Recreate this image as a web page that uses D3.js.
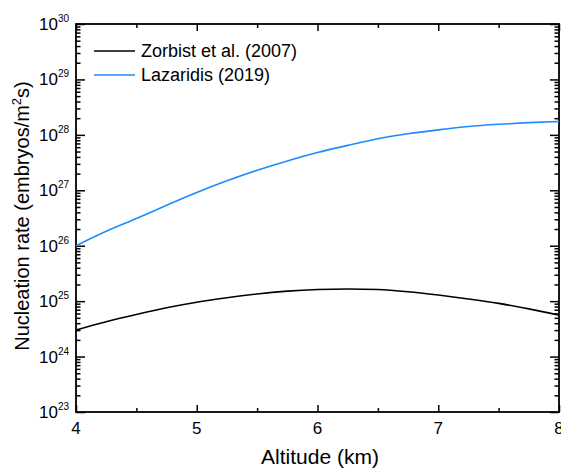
<!DOCTYPE html>
<html>
<head>
<meta charset="utf-8">
<script src="https://cdn.jsdelivr.net/npm/d3@7"></script>
<style>
  body { margin: 0; background: #fff; }
  text { font-family: "Liberation Sans", Arial, sans-serif; fill: #000; }
</style>
</head>
<body>
<script>
var fullWidth = 561
var fullHeight = 468
var margin = { top: 24, right: 2, bottom: 56, left: 76 },
  innerWidth = fullWidth - margin.left - margin.right,
  innerHeight = fullHeight - margin.top - margin.bottom

// altitude grid (km) and log10 of nucleation rate
var altitudes = [4, 4.25, 4.5, 4.75, 5, 5.25, 5.5, 5.75, 6, 6.25, 6.5, 6.75, 7, 7.25, 7.5, 7.75, 8]
var zorbistLog = [24.48, 24.63, 24.76, 24.88, 24.98, 25.06, 25.13, 25.18, 25.21, 25.22, 25.21, 25.17, 25.11, 25.04, 24.96, 24.86, 24.75]
var lazaridisLog = [26.0, 26.26, 26.49, 26.73, 26.96, 27.17, 27.36, 27.53, 27.68, 27.81, 27.93, 28.02, 28.09, 28.15, 28.19, 28.22, 28.24]

var seriesNames = ['Zorbist et al. (2007)', 'Lazaridis (2019)']
var seriesColors = ['#000000', '#1a8cff']

var xMajor = [4, 5, 6, 7, 8]
var xMinor = [4.5, 5.5, 6.5, 7.5]
var yExponents = [23, 24, 25, 26, 27, 28, 29, 30]

var svg = d3
  .select('body')
  .append('svg')
  .attr('width', fullWidth)
  .attr('height', fullHeight)

var g = svg.append('g').attr('transform', 'translate(' + margin.left + ',' + margin.top + ')')

var x = d3.scaleLinear().domain([4, 8]).range([0, innerWidth])
var y = d3.scaleLog().domain([1e23, 1e30]).range([innerHeight, 0])

var yMinor = []
yExponents.slice(0, -1).forEach(function (e) {
  for (var k = 2; k <= 9; k++) yMinor.push(k * Math.pow(10, e))
})
var yMajor = yExponents.map(function (e) { return Math.pow(10, e) })

function styleAxis(sel) {
  sel.select('.domain').remove()
  sel.selectAll('line').attr('stroke', '#000').attr('stroke-width', 1.5)
}

// inward ticks on all four sides
g.append('g').attr('transform', 'translate(0,' + innerHeight + ')')
  .call(d3.axisBottom(x).tickValues(xMajor).tickSize(-7).tickFormat('')).call(styleAxis)
g.append('g').attr('transform', 'translate(0,' + innerHeight + ')')
  .call(d3.axisBottom(x).tickValues(xMinor).tickSize(-4).tickFormat('')).call(styleAxis)
g.append('g')
  .call(d3.axisTop(x).tickValues(xMajor).tickSize(-7).tickFormat('')).call(styleAxis)
g.append('g')
  .call(d3.axisTop(x).tickValues(xMinor).tickSize(-4).tickFormat('')).call(styleAxis)
g.append('g')
  .call(d3.axisLeft(y).tickValues(yMajor).tickSize(-9).tickFormat('')).call(styleAxis)
g.append('g')
  .call(d3.axisLeft(y).tickValues(yMinor).tickSize(-4.5).tickFormat('')).call(styleAxis)
g.append('g').attr('transform', 'translate(' + innerWidth + ',0)')
  .call(d3.axisRight(y).tickValues(yMajor).tickSize(-9).tickFormat('')).call(styleAxis)
g.append('g').attr('transform', 'translate(' + innerWidth + ',0)')
  .call(d3.axisRight(y).tickValues(yMinor).tickSize(-4.5).tickFormat('')).call(styleAxis)

// frame
g.append('rect')
  .attr('width', innerWidth)
  .attr('height', innerHeight)
  .attr('fill', 'none')
  .attr('stroke', '#000')
  .attr('stroke-width', 1.8)

// x tick labels
g.selectAll('.xlab')
  .data(xMajor)
  .enter()
  .append('text')
  .attr('x', (d) => x(d))
  .attr('y', innerHeight + 22)
  .attr('text-anchor', 'middle')
  .style('font-size', '17px')
  .text((d) => d)

// y tick labels 10^n
var ylab = g.selectAll('.ylab')
  .data(yExponents)
  .enter()
  .append('text')
  .attr('x', -7)
  .attr('y', (d) => y(Math.pow(10, d)) + 6)
  .attr('text-anchor', 'end')
  .style('font-size', '17px')
ylab.append('tspan').text('10')
ylab.append('tspan')
  .attr('dy', -8)
  .style('font-size', '10px')
  .text((d) => d)

// lines
var line = d3.line()
  .x((d) => x(d[0]))
  .y((d) => y(Math.pow(10, d[1])))
  .curve(d3.curveMonotoneX)

;[zorbistLog, lazaridisLog].forEach(function (vals, i) {
  g.append('path')
    .datum(altitudes.map((a, j) => [a, vals[j]]))
    .attr('fill', 'none')
    .attr('stroke', seriesColors[i])
    .attr('stroke-width', 1.6)
    .attr('d', line)
})

// legend
var legend = g.append('g').attr('transform', 'translate(18,27)')
seriesNames.forEach(function (name, i) {
  var row = legend.append('g').attr('transform', 'translate(0,' + i * 24 + ')')
  row.append('line')
    .attr('x1', 0).attr('x2', 41)
    .attr('stroke', seriesColors[i])
    .attr('stroke-width', 1.5)
  row.append('text')
    .attr('x', 47)
    .attr('y', 6)
    .style('font-size', '18px')
    .text(name)
})

// axis titles
svg.append('text')
  .attr('x', 320)
  .attr('y', 464)
  .attr('text-anchor', 'middle')
  .style('font-size', '21px')
  .text('Altitude (km)')

var yt = svg.append('text')
  .attr('transform', 'translate(29,' + 216 + ') rotate(-90)')
  .attr('text-anchor', 'middle')
  .style('font-size', '20px')
yt.append('tspan').text('Nucleation rate (embryos/m')
yt.append('tspan').attr('dy', -8).style('font-size', '13px').text('2')
yt.append('tspan').attr('dy', 8).text('s)')
</script>
</body>
</html>
